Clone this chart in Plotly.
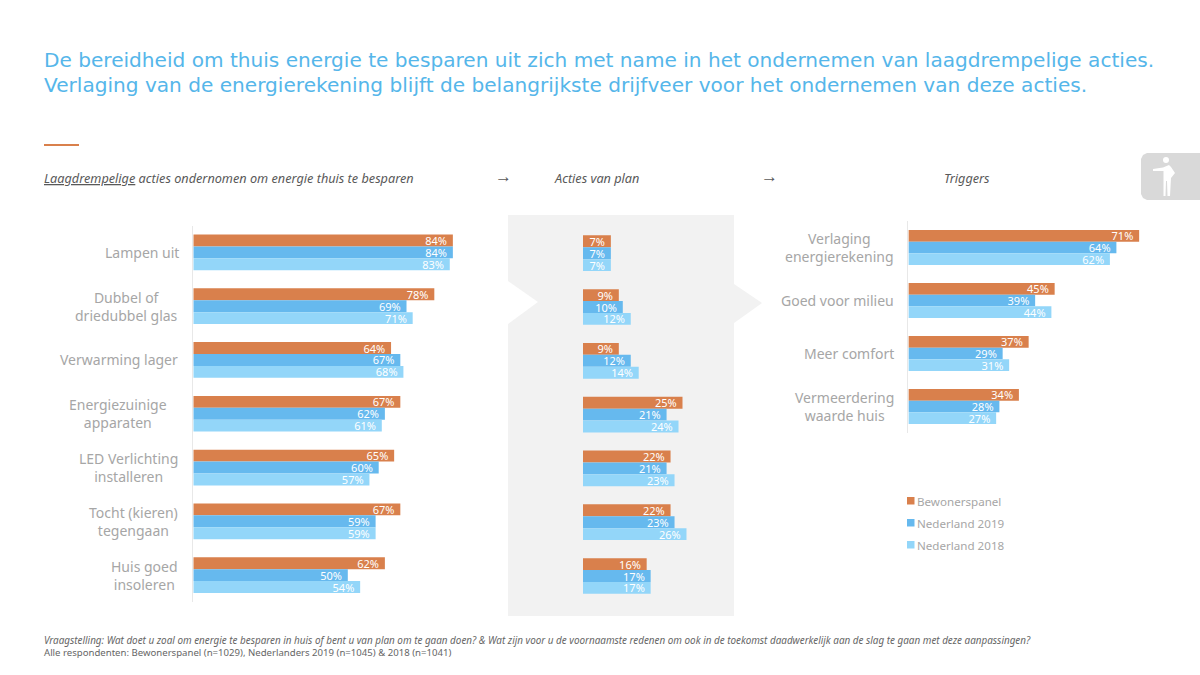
import plotly.graph_objects as go

acties = ['Lampen uit', 'Dubbel of<br>driedubbel glas', 'Verwarming lager',
          'Energiezuinige<br>apparaten', 'LED Verlichting<br>installeren',
          'Tocht (kieren)<br>tegengaan', 'Huis goed<br>insoleren']
triggers = ['Verlaging<br>energierekening', 'Goed voor milieu', 'Meer comfort',
            'Vermeerdering<br>waarde huis']

series = ['Bewonerspanel', 'Nederland 2019', 'Nederland 2018']
kleuren = ['#D9804C', '#66B9EE', '#93D6F9']

ondernomen_bew = [84, 78, 64, 67, 65, 67, 62]
ondernomen_2019 = [84, 69, 67, 62, 60, 59, 50]
ondernomen_2018 = [83, 71, 68, 61, 57, 59, 54]

plan_bew = [7, 9, 9, 25, 22, 22, 16]
plan_2019 = [7, 10, 12, 21, 21, 23, 17]
plan_2018 = [7, 12, 14, 24, 23, 26, 17]

triggers_bew = [71, 45, 37, 34]
triggers_2019 = [64, 39, 29, 28]
triggers_2018 = [62, 44, 31, 27]

FONT = 'Noto Sans'
TITEL_FONT = 'DejaVu Sans'
GRIJS = '#A6A6A6'
TITEL_BLAUW = '#55B6EA'
VOET_GRIJS = '#666666'
W, H = 1200, 675


def px(x):
    return x / W


def py(y):
    return 1 - y / H


fig = go.Figure()

# x0, x1, y0, y1 in pixels, max of the x axis, right edge of each category label
panelen = [
    dict(nr='', cats=acties, vals=[ondernomen_bew, ondernomen_2019, ondernomen_2018],
         x0=193.3, x1=502.3, y0=225.5, y1=602, xmax=100, lijn=True,
         label_x=[181, 180, 180, 169, 180, 180, 180]),
    dict(nr='2', cats=acties, vals=[plan_bew, plan_2019, plan_2018],
         x0=583, x1=702.4, y0=226.3, y1=602.9, xmax=30, lijn=False, label_x=None),
    dict(nr='3', cats=triggers, vals=[triggers_bew, triggers_2019, triggers_2018],
         x0=908.4, x1=1168.4, y0=221, y1=433, xmax=80, lijn=True,
         label_x=[896, 896, 896, 896]),
]

annotations = []
for p in panelen:
    for naam, kleur, waarden in zip(series, kleuren, p['vals']):
        fig.add_trace(go.Bar(
            y=p['cats'], x=waarden, name=naam, orientation='h',
            marker=dict(color=kleur, line=dict(width=0)),
            text=[f'{v}%\u00a0' for v in waarden],
            textposition='inside', insidetextanchor='end',
            constraintext='none', textangle=0,
            textfont=dict(family=FONT, size=11, color='white'),
            cliponaxis=False, showlegend=False,
            xaxis='x' + p['nr'], yaxis='y' + p['nr'],
        ))
    fig.update_layout({
        'xaxis' + p['nr']: dict(
            domain=[px(p['x0']), px(p['x1'])], range=[0, p['xmax']],
            visible=False, anchor='y' + p['nr'], fixedrange=True),
        'yaxis' + p['nr']: dict(
            domain=[py(p['y1']), py(p['y0'])], autorange='reversed',
            anchor='x' + p['nr'], showticklabels=False, ticks='',
            showgrid=False, zeroline=False, showline=p['lijn'],
            linecolor='#E8E8E8', linewidth=1, fixedrange=True),
    })
    if p['label_x']:
        for cat, lx in zip(p['cats'], p['label_x']):
            annotations.append(dict(
                text=cat, xref='paper', x=px(lx), xanchor='right',
                yref='y' + p['nr'], y=cat, yanchor='middle', align='center',
                showarrow=False, font=dict(family=FONT, size=14, color=GRIJS)))


def tekst(txt, x, y, size, color, anchor='left', align='left', family=FONT):
    annotations.append(dict(
        text=txt, xref='paper', yref='paper', x=px(x), y=py(y),
        xanchor=anchor, yanchor='middle', align=align, showarrow=False,
        font=dict(family=family, size=size, color=color)))


tekst('De bereidheid om thuis energie te besparen uit zich met name in het ondernemen van laagdrempelige acties.',
      42, 60, 20.1, TITEL_BLAUW, family=TITEL_FONT)
tekst('Verlaging van de energierekening blijft de belangrijkste drijfveer voor het ondernemen van deze acties.',
      42, 85, 20.1, TITEL_BLAUW, family=TITEL_FONT)

tekst('<i><u>Laagdrempelige</u> acties ondernomen om energie thuis te besparen</i>', 42, 178, 12.7, '#595959')
tekst('<i>Acties van plan</i>', 551.5, 178, 12.7, '#595959')
tekst('<i>Triggers</i>', 942, 178, 12.7, '#595959')
tekst('→', 503, 175, 17, '#595959', anchor='center')
tekst('→', 769, 175, 17, '#595959', anchor='center')

tekst('<i>Vraagstelling: Wat doet u zoal om energie te besparen in huis of bent u van plan om te gaan doen? '
      '&amp; Wat zijn voor u de voornaamste redenen om ook in de toekomst daadwerkelijk aan de slag te gaan '
      'met deze aanpassingen?</i>', 42, 640, 9.9, VOET_GRIJS)
tekst('Alle respondenten: Bewonerspanel (n=1029), Nederlanders 2019 (n=1045) &amp; 2018 (n=1041)',
      42, 652, 9.6, VOET_GRIJS)

shapes = []


def vorm(path, fill, layer='below'):
    shapes.append(dict(type='path', path=path, xref='paper', yref='paper',
                       fillcolor=fill, line=dict(width=0), layer=layer))


def pad(punten):
    return 'M' + ' L'.join(f'{px(x)},{py(y)}' for x, y in punten) + ' Z'


# grey panel with chevrons
vorm(pad([(508, 215), (734, 215), (734, 284), (762, 303), (734, 323), (734, 616),
          (508, 616), (508, 324), (538, 302), (508, 281)]), '#F2F2F2')

# orange rule
shapes.append(dict(type='rect', xref='paper', yref='paper', x0=px(44), x1=px(79),
                   y0=py(144), y1=py(146), fillcolor='#D9804C', line=dict(width=0)))

# legend
for naam, kleur, y in zip(series, kleuren, [501, 523, 545]):
    shapes.append(dict(type='rect', xref='paper', yref='paper', x0=px(907), x1=px(914.5),
                       y0=py(y - 4), y1=py(y + 3.5), fillcolor=kleur, line=dict(width=0)))
    tekst(naam, 915, y, 11.6, GRIJS)

# person tab
vorm(pad([(1147, 153), (1200, 153), (1200, 200), (1147, 200), (1143, 198), (1141, 194),
          (1141, 159), (1143, 155)]), '#D9D9D9', layer='above')
shapes.append(dict(type='circle', xref='paper', yref='paper', x0=px(1163), x1=px(1169),
                   y0=py(163), y1=py(157), fillcolor='white', line=dict(width=0), layer='above'))
vorm(pad([(1153, 169), (1163, 167.5), (1169, 165), (1171, 167), (1175, 173), (1171, 178),
          (1170, 196), (1167.5, 196), (1167, 181), (1166, 181), (1165.5, 196), (1163.5, 196),
          (1163.5, 171), (1153, 171)]), 'white', layer='above')

fig.update_layout(
    width=W, height=H, margin=dict(l=0, r=0, t=0, b=0),
    paper_bgcolor='white', plot_bgcolor='rgba(0,0,0,0)',
    barmode='group', bargap=0.336, bargroupgap=0,
    showlegend=False, annotations=annotations, shapes=shapes,
    font=dict(family=FONT),
)

fig.write_html('out.html', config=dict(displayModeBar=False),
               post_script="document.body.style.margin='0';document.body.style.overflow='hidden';")
